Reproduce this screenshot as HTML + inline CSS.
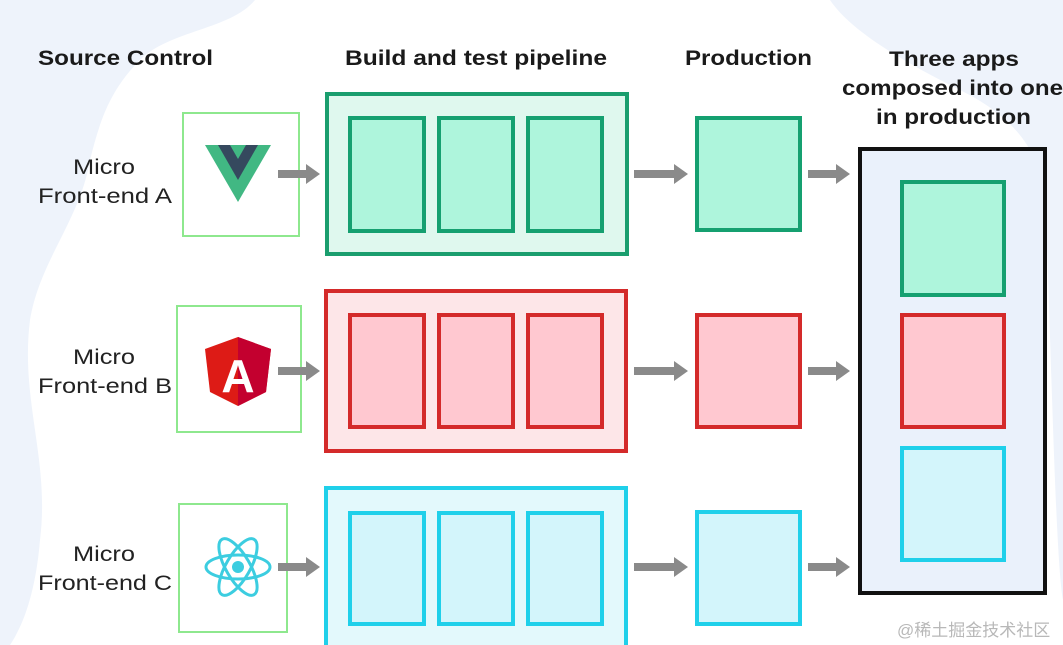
<!DOCTYPE html>
<html><head><meta charset="utf-8"><style>
html,body{margin:0;padding:0;background:#fff;}
svg{display:block}
text{font-family:"Liberation Sans","Noto Sans CJK SC",sans-serif;}
</style></head><body>
<svg width="1063" height="645" viewBox="0 0 1063 645" xmlns="http://www.w3.org/2000/svg">
<rect width="1063" height="645" fill="#fff"/>
<path d="M0 0 H255 C230 30 170 30 140 60 C110 90 100 120 90 160 C80 220 40 260 30 320 C20 400 50 460 40 540 C35 600 20 630 10 645 H0 Z" fill="#eef3fb"/>
<path d="M830 0 H1063 V600 C1055 560 1050 300 1045 200 C1040 140 1000 110 960 90 C900 60 850 30 830 0 Z" fill="#eef3fb"/>
<g font-weight="bold" font-size="21" fill="#1a1a1a" lengthAdjust="spacingAndGlyphs">
<text x="38" y="65" textLength="175" lengthAdjust="spacingAndGlyphs">Source Control</text>
<text x="345" y="65" textLength="262" lengthAdjust="spacingAndGlyphs">Build and test pipeline</text>
<text x="685" y="65" textLength="127" lengthAdjust="spacingAndGlyphs">Production</text>
<text x="889" y="66" textLength="130" lengthAdjust="spacingAndGlyphs">Three apps</text>
<text x="842" y="95" textLength="221" lengthAdjust="spacingAndGlyphs">composed into one</text>
<text x="876" y="124" textLength="155" lengthAdjust="spacingAndGlyphs">in production</text>
</g>
<g font-size="21" fill="#222">
<text x="73" y="174" textLength="62" lengthAdjust="spacingAndGlyphs">Micro</text><text x="38" y="203" textLength="134" lengthAdjust="spacingAndGlyphs">Front-end A</text>
<text x="73" y="364" textLength="62" lengthAdjust="spacingAndGlyphs">Micro</text><text x="38" y="393" textLength="134" lengthAdjust="spacingAndGlyphs">Front-end B</text>
<text x="73" y="561" textLength="62" lengthAdjust="spacingAndGlyphs">Micro</text><text x="38" y="590" textLength="134" lengthAdjust="spacingAndGlyphs">Front-end C</text>
</g>
<g fill="#fff" stroke="#8ee88e" stroke-width="2">
<rect x="183" y="113" width="116" height="123"/>
<rect x="177" y="306" width="124" height="126"/>
<rect x="179" y="504" width="108" height="128"/>
</g>
<polygon points="205,145 271,145 238,202" fill="#41b883"/>
<polygon points="218,145 258,145 238,180" fill="#35495e"/>
<polygon points="230,145 246,145 238,159" fill="#41b883"/>
<polygon points="238,337 271,349 266,392 238,406 210,392 205,349" fill="#dd1b16"/>
<polygon points="238,337 271,349 266,392 238,406" fill="#c3002f"/>
<text x="238" y="392" text-anchor="middle" font-size="46" fill="#fff" font-weight="bold">A</text>
<g fill="none" stroke="#3ccde0" stroke-width="3">
<ellipse cx="238" cy="567" rx="32" ry="12"/>
<ellipse cx="238" cy="567" rx="32" ry="12" transform="rotate(60 238 567)"/>
<ellipse cx="238" cy="567" rx="32" ry="12" transform="rotate(-60 238 567)"/>
</g>
<circle cx="238" cy="567" r="6" fill="#3ccde0"/>
<g fill="#8a8a8a">
<path d="M0 -4 H28 V-10 L42 0 L28 10 V4 H0 Z" transform="translate(278 174)"/>
<path d="M0 -4 H28 V-10 L42 0 L28 10 V4 H0 Z" transform="translate(278 371)"/>
<path d="M0 -4 H28 V-10 L42 0 L28 10 V4 H0 Z" transform="translate(278 567)"/>
<path d="M0 -4 H40 V-10 L54 0 L40 10 V4 H0 Z" transform="translate(634 174)"/>
<path d="M0 -4 H40 V-10 L54 0 L40 10 V4 H0 Z" transform="translate(634 371)"/>
<path d="M0 -4 H40 V-10 L54 0 L40 10 V4 H0 Z" transform="translate(634 567)"/>
<path d="M0 -4 H28 V-10 L42 0 L28 10 V4 H0 Z" transform="translate(808 174)"/>
<path d="M0 -4 H28 V-10 L42 0 L28 10 V4 H0 Z" transform="translate(808 371)"/>
<path d="M0 -4 H28 V-10 L42 0 L28 10 V4 H0 Z" transform="translate(808 567)"/>
</g>
<rect x="327" y="94" width="300" height="160" fill="#dff8ee" stroke="#1a9e6e" stroke-width="4"/>
<rect x="326" y="291" width="300" height="160" fill="#fde6e8" stroke="#d42a2a" stroke-width="4"/>
<rect x="326" y="488" width="300" height="170" fill="#e3f9fc" stroke="#1fd0ea" stroke-width="4"/>
<g stroke-width="4">
<g fill="#aef5dc" stroke="#15a070">
<rect x="350" y="118" width="74" height="113"/><rect x="439" y="118" width="74" height="113"/><rect x="528" y="118" width="74" height="113"/>
<rect x="697" y="118" width="103" height="112"/>
</g>
<g fill="#ffc8d0" stroke="#d42a2a">
<rect x="350" y="315" width="74" height="112"/><rect x="439" y="315" width="74" height="112"/><rect x="528" y="315" width="74" height="112"/>
<rect x="697" y="315" width="103" height="112"/>
</g>
<g fill="#d3f5fb" stroke="#1fd0ea">
<rect x="350" y="513" width="74" height="111"/><rect x="439" y="513" width="74" height="111"/><rect x="528" y="513" width="74" height="111"/>
<rect x="697" y="512" width="103" height="112"/>
</g>
</g>
<rect x="860" y="149" width="185" height="444" fill="#eaf1fb" stroke="#111" stroke-width="4"/>
<rect x="902" y="182" width="102" height="113" fill="#aef5dc" stroke="#15a070" stroke-width="4"/>
<rect x="902" y="315" width="102" height="112" fill="#ffc8d0" stroke="#d42a2a" stroke-width="4"/>
<rect x="902" y="448" width="102" height="112" fill="#d3f5fb" stroke="#1fd0ea" stroke-width="4"/>
<text x="897" y="636" font-size="17" fill="#b8b8b8">@稀土掘金技术社区</text>
</svg>
</body></html>
